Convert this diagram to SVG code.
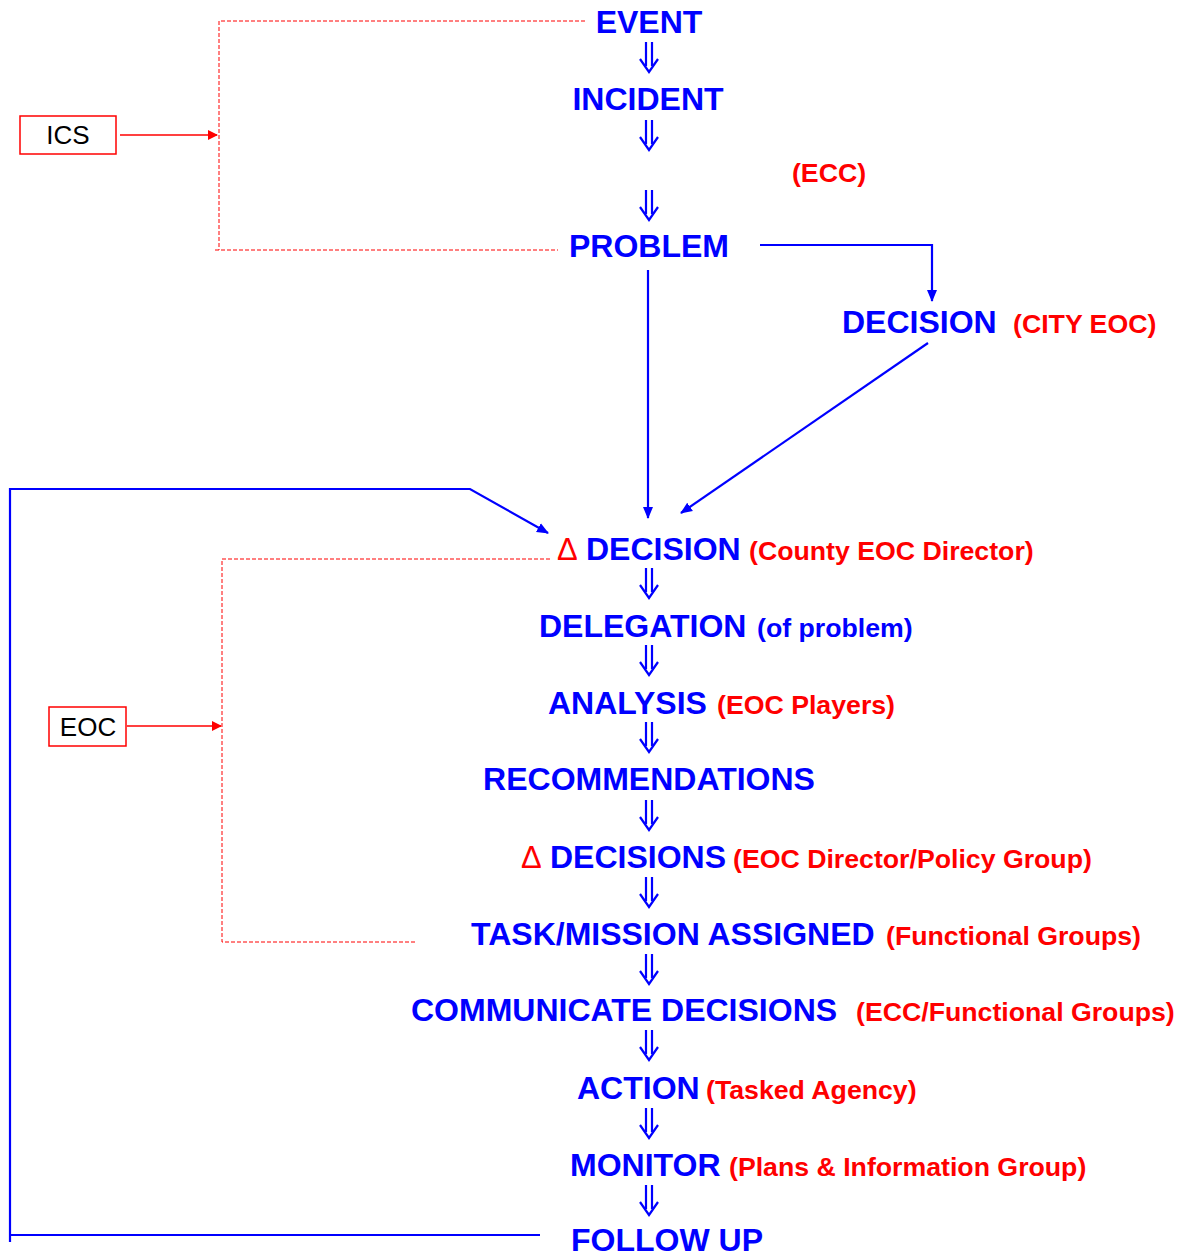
<svg xmlns="http://www.w3.org/2000/svg" width="1181" height="1256" viewBox="0 0 1181 1256">
<defs>
<style>
text{font-family:"Liberation Sans",Arial,sans-serif;font-weight:bold}
.b{fill:#0000ff;font-size:32px}
.r{fill:#ff0000;font-size:26.7px}
.bs{fill:#0000ff;font-size:26.7px}
.d{fill:#ff0000;font-size:31px;font-weight:normal}
.box{fill:#fff;stroke:#ff0000;stroke-width:1.5}
.bt{fill:#000;font-weight:normal;font-size:26px}
.dot{fill:none;stroke:#ff0000;stroke-width:1;stroke-dasharray:4 2}
.rl{fill:none;stroke:#ff0000;stroke-width:1.5}
.bl{fill:none;stroke:#0000ff;stroke-width:2.2}
</style>
<marker id="ar" markerWidth="10" markerHeight="10" refX="9" refY="5" orient="auto" markerUnits="userSpaceOnUse"><path d="M0,0 L10,5 L0,10 Z" fill="#ff0000"/></marker>
<marker id="ab" markerWidth="12" markerHeight="12" refX="11" refY="6" orient="auto" markerUnits="userSpaceOnUse"><path d="M0,1 L12,6 L0,11 Z" fill="#0000ff"/></marker>
<symbol id="dn" viewBox="0 0 20 32" width="20" height="32" overflow="visible"><path d="M7,0 V24 M13,0 V24 M1,17 L10,30 L19,17" fill="none" stroke="#0000ff" stroke-width="2.2"/></symbol>
</defs>

<g id="connectors">
<path class="dot" d="M585,21 H219 V250 M215,250 H558"/>
<path class="dot" d="M550,559 H222 V942 H416"/>
<line class="rl" x1="120" y1="135" x2="217" y2="135" marker-end="url(#ar)"/>
<line class="rl" x1="127" y1="726" x2="221" y2="726" marker-end="url(#ar)"/>
<path class="bl" d="M760,245 H932 V301" marker-end="url(#ab)"/>
<line class="bl" x1="648" y1="270" x2="648" y2="518" marker-end="url(#ab)"/>
<line class="bl" x1="928" y1="343" x2="681" y2="513" marker-end="url(#ab)"/>
<path class="bl" d="M10,1242 V489 H470 L548,533" marker-end="url(#ab)"/>
<line class="bl" x1="10" y1="1235" x2="540" y2="1235"/>
<use href="#dn" x="639" y="42"/>
<use href="#dn" x="639" y="120"/>
<use href="#dn" x="639" y="190"/>
<use href="#dn" x="639" y="568"/>
<use href="#dn" x="639" y="645"/>
<use href="#dn" x="639" y="722"/>
<use href="#dn" x="639" y="800"/>
<use href="#dn" x="639" y="877"/>
<use href="#dn" x="639" y="954"/>
<use href="#dn" x="639" y="1030"/>
<use href="#dn" x="639" y="1108"/>
<use href="#dn" x="639" y="1185"/>
</g>

<g id="ics"><rect class="box" x="20" y="116" width="96" height="38"/><text class="bt" x="68" y="144" text-anchor="middle">ICS</text></g>
<g id="eoc"><rect class="box" x="49" y="707" width="77" height="39" stroke-width="2"/><text class="bt" x="88" y="736" text-anchor="middle">EOC</text></g>

<g id="event"><text class="b" x="649" y="33" text-anchor="middle">EVENT</text></g>
<g id="incident"><text class="b" x="648" y="110" text-anchor="middle">INCIDENT</text></g>
<g id="ecc"><text class="r" x="829" y="182" text-anchor="middle">(ECC)</text></g>
<g id="problem"><text class="b" x="649" y="257" text-anchor="middle">PROBLEM</text></g>
<g id="decision-city"><text class="b" x="842" y="333">DECISION</text><text class="r" x="1013" y="333">(CITY EOC)</text></g>
<g id="decision-county"><text x="557" y="560"><tspan class="d">Δ</tspan><tspan class="b" x="586">DECISION</tspan><tspan class="r" x="749" font-size="32">(</tspan><tspan class="r">County EOC Director)</tspan></text></g>
<g id="delegation"><text x="539" y="637"><tspan class="b">DELEGATION</tspan><tspan class="bs" x="757">(of problem)</tspan></text></g>
<g id="analysis"><text x="548" y="714"><tspan class="b">ANALYSIS</tspan><tspan class="r" x="717">(EOC Players)</tspan></text></g>
<g id="recommendations"><text class="b" x="649" y="790" text-anchor="middle">RECOMMENDATIONS</text></g>
<g id="decisions"><text x="521" y="868"><tspan class="d">Δ</tspan><tspan class="b" x="550">DECISIONS</tspan><tspan class="r" x="733">(EOC Director/Policy Group)</tspan></text></g>
<g id="task"><text x="471" y="945"><tspan class="b">TASK/MISSION ASSIGNED</tspan><tspan class="r" x="886">(Functional Groups)</tspan></text></g>
<g id="communicate"><text x="411" y="1021"><tspan class="b">COMMUNICATE DECISIONS</tspan><tspan class="r" x="856">(ECC/Functional Groups)</tspan></text></g>
<g id="action"><text x="577" y="1099"><tspan class="b">ACTION</tspan><tspan class="r" x="706">(Tasked Agency)</tspan></text></g>
<g id="monitor"><text x="570" y="1176"><tspan class="b">MONITOR</tspan><tspan class="r" x="729">(Plans &amp; Information Group)</tspan></text></g>
<g id="followup"><text class="b" x="571" y="1251">FOLLOW UP</text></g>
</svg>
